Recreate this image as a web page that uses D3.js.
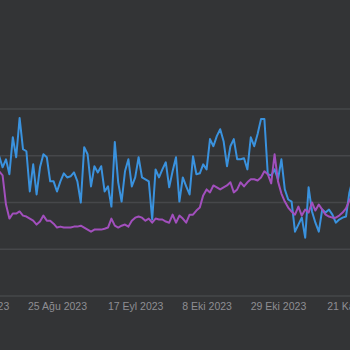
<!DOCTYPE html>
<html>
<head>
<meta charset="utf-8">
<script src="https://cdn.jsdelivr.net/npm/d3@7"></script>
<style>
  html, body { margin: 0; padding: 0; background: #333436; }
  svg { display: block; }
</style>
</head>
<body>
<svg id="chart" width="350" height="350"></svg>
<script>
// Daily observations, 7 Aug 2023 – 20 Nov 2023
const firstDay = "2023-08-07";
const lastDay = "2023-11-20";

const seriesBlue = [
  70.4, 74.7, 68.8, 73.1, 65.1, 84.9, 74.2, 95.2, 78.5, 77.4,
  55.9, 70.4, 54.3, 68.8, 75.8, 74.2, 61.3, 61.3, 55.9, 61.3,
  65.6, 63.4, 64.0, 66.1, 61.3, 50.0, 79.6, 75.8, 58.6, 69.4,
  66.1, 69.4, 55.9, 58.6, 47.8, 82.3, 60.8, 50.5, 66.7, 73.1,
  58.6, 63.4, 74.2, 63.4, 62.4, 61.3, 40.9, 67.7, 63.4, 67.7,
  71.5, 58.1, 66.7, 74.2, 50.5, 63.4, 58.6, 54.3, 74.7, 65.1,
  65.6, 70.4, 67.7, 83.9, 80.1, 85.5, 89.2, 82.8, 69.4, 80.1,
  83.9, 73.1, 73.1, 73.7, 67.7, 84.9, 80.1, 86.6, 94.6, 94.6,
  65.1, 64.5, 67.7, 62.4, 73.1, 57.0, 51.6, 50.5, 34.4, 38.2,
  41.9, 31.2, 58.1, 45.2, 39.2, 34.4, 46.2, 44.6, 46.2, 43.5,
  39.2, 40.9, 41.9, 42.5, 55.4, 62.4
];

const seriesPurple = [
  65.1, 66.7, 64.5, 48.9, 41.4, 44.1, 44.1, 45.2, 43.0, 42.5,
  41.4, 40.3, 38.2, 39.8, 43.0, 40.3, 40.3, 38.7, 36.6, 37.1,
  36.6, 36.6, 36.6, 37.1, 37.1, 37.6, 36.6, 35.5, 34.4, 35.5,
  35.5, 35.5, 36.0, 36.6, 41.4, 37.6, 36.6, 37.6, 38.2, 37.1,
  40.3, 41.9, 42.5, 41.9, 40.3, 41.4, 39.2, 41.4, 40.9, 40.9,
  39.8, 39.2, 43.5, 39.2, 43.0, 41.4, 39.2, 43.5, 43.5, 45.7,
  47.3, 53.8, 57.0, 55.4, 59.1, 58.1, 57.0, 58.1, 59.1, 60.8,
  55.4, 57.0, 60.8, 58.6, 60.8, 62.4, 62.4, 61.8, 63.4, 66.7,
  65.1, 60.2, 75.8, 61.3, 54.8, 50.5, 47.3, 45.2, 43.5, 47.8,
  43.0, 46.2, 44.6, 50.0, 45.7, 48.9, 46.2, 43.5, 42.5, 41.9,
  41.9, 43.0, 44.6, 46.8, 51.1, 54.3
];

const yTicks = [0, 25, 50, 75, 100];
const xTickDates = ["2023-08-03", "2023-08-25", "2023-09-17", "2023-10-08", "2023-10-29", "2023-11-21"];

const trLocale = d3.timeFormatLocale({
  dateTime: "%d %B %Y %A %X",
  date: "%d.%m.%Y",
  time: "%H:%M:%S",
  periods: ["ÖÖ", "ÖS"],
  days: ["Pazar", "Pazartesi", "Salı", "Çarşamba", "Perşembe", "Cuma", "Cumartesi"],
  shortDays: ["Paz", "Pzt", "Sal", "Çar", "Per", "Cum", "Cmt"],
  months: ["Ocak", "Şubat", "Mart", "Nisan", "Mayıs", "Haziran", "Temmuz", "Ağustos", "Eylül", "Ekim", "Kasım", "Aralık"],
  shortMonths: ["Oca", "Şub", "Mar", "Nis", "May", "Haz", "Tem", "Ağu", "Eyl", "Eki", "Kas", "Ara"]
});
const fmtTick = trLocale.utcFormat("%-d %b %Y");

const svg = d3.select("#chart");
const width = 350, height = 350;

const days = d3.utcDay.range(new Date(firstDay), d3.utcDay.offset(new Date(lastDay), 1));

const x = d3.scaleUtc()
  .domain([new Date("2023-08-25"), new Date("2023-10-29")])
  .range([57, 278]);

const y = d3.scaleLinear()
  .domain([0, 100])
  .range([296, 109]);

// horizontal grid
svg.append("g")
  .selectAll("line")
  .data(yTicks)
  .join("line")
  .attr("x1", 0)
  .attr("x2", width)
  .attr("y1", d => y(d))
  .attr("y2", d => y(d))
  .attr("stroke", "#46474a")
  .attr("stroke-width", 1.5);

// x axis labels
const xAxis = d3.axisBottom(x)
  .tickValues(xTickDates.map(d => new Date(d)))
  .tickFormat(fmtTick)
  .tickSize(0)
  .tickPadding(0);

const gx = svg.append("g")
  .attr("transform", `translate(0, 303)`)
  .call(xAxis);
gx.select(".domain").remove();
gx.selectAll("text")
  .attr("fill", "#8e8e93")
  .attr("font-family", "'Liberation Sans', Arial, sans-serif")
  .attr("font-size", "10.5px");

const line = d3.line()
  .x((d, i) => x(days[i]))
  .y(d => y(d));

const plot = svg.append("g");

plot.append("path")
  .datum(seriesBlue)
  .attr("d", line)
  .attr("fill", "none")
  .attr("stroke", "#3a92de")
  .attr("stroke-width", 2)
  .attr("stroke-linejoin", "round");

plot.append("path")
  .datum(seriesPurple)
  .attr("d", line)
  .attr("fill", "none")
  .attr("stroke", "#a24fbd")
  .attr("stroke-width", 2)
  .attr("stroke-linejoin", "round");
</script>
</body>
</html>
